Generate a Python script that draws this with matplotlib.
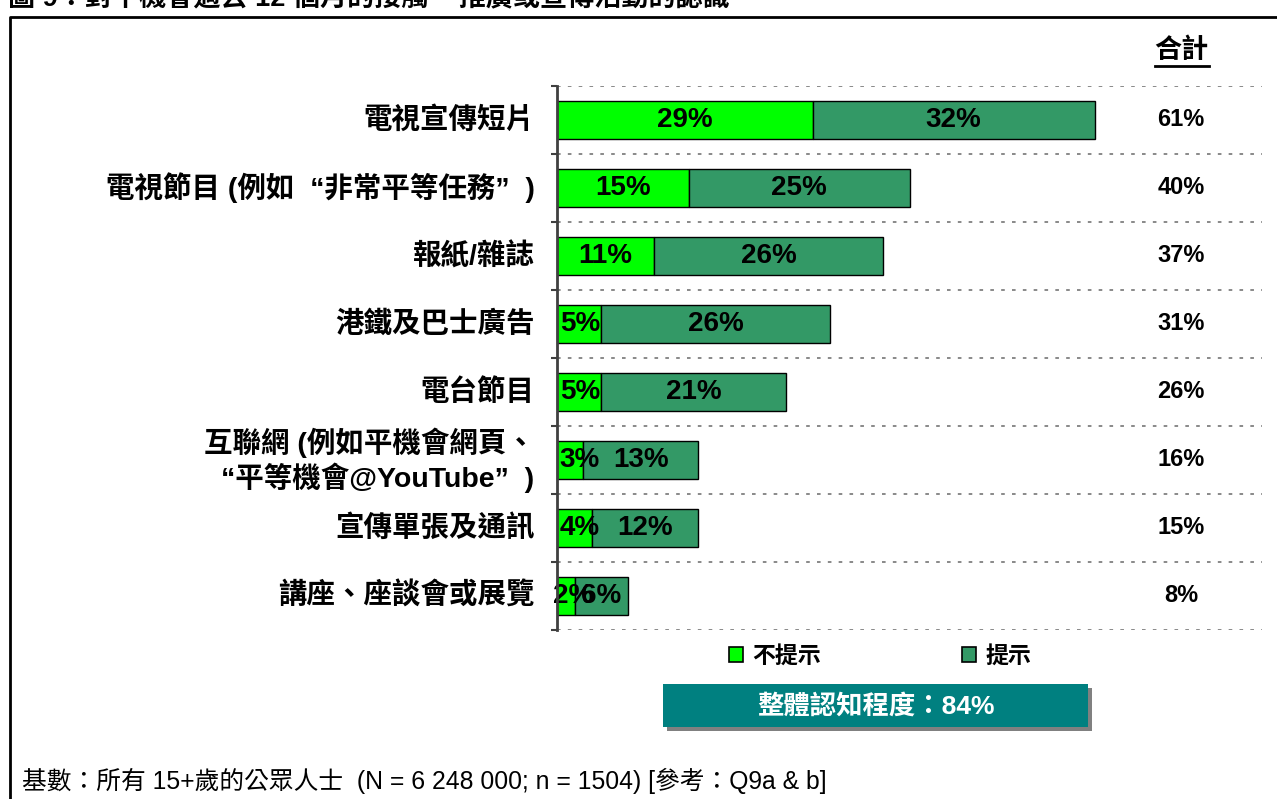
import matplotlib
matplotlib.use("Agg")
import matplotlib.pyplot as plt
from matplotlib.patches import Patch, Rectangle
from matplotlib.lines import Line2D

categories = ["電視宣傳短片", "電視節目 (例如  “非常平等任務”  )", "報紙/雜誌", "港鐵及巴士廣告",
              "電台節目", "互聯網 (例如平機會網頁、\n“平等機會@YouTube”  )", "宣傳單張及通訊",
              "講座、座談會或展覽"]
unprompted = [29, 15, 11, 5, 5, 3, 4, 2]
prompted = [32, 25, 26, 26, 21, 13, 12, 6]
totals = [61, 40, 37, 31, 26, 16, 15, 8]
series_names = ["不提示", "提示"]
overall_text = "整體認知程度：84%"
total_header = "合計"
footer = "基數：所有 15+歲的公眾人士  (N = 6 248 000; n = 1504) [參考：Q9a & b]"
title = "圖 9：對平機會過去 12 個月的接觸 – 推廣或宣傳活動的認識"

C_LIGHT = "#00FF00"
C_DARK = "#339966"
FAM = ["Liberation Sans", "Noto Sans CJK TC"]

W, H = 1277, 799
fig = plt.figure(figsize=(W / 100, H / 100), dpi=100)

def fx(px):
    return px / W

def fy(py):
    return 1 - py / H

ax = fig.add_axes([fx(557), fy(630), fx(1262) - fx(557), fy(86) - fy(630)])
n = len(categories)
ypos = list(range(n))
ax.set_xlim(0, 80)
ax.set_ylim(n - 0.5, -0.5)

ax.barh(ypos, unprompted, height=0.56, color=C_LIGHT, edgecolor="black", linewidth=1.0, zorder=3)
ax.barh(ypos, prompted, left=unprompted, height=0.56, color=C_DARK, edgecolor="black", linewidth=1.0, zorder=3)

for i in ypos:
    u, p = unprompted[i], prompted[i]
    ux = max(u / 2, min(2.6, 0.9 * u))
    ax.text(ux, i, f"{u}%", ha="center", va="center", fontsize=20, fontweight="bold",
            family=FAM, zorder=4)
    ax.text(u + p / 2, i, f"{p}%", ha="center", va="center", fontsize=20, fontweight="bold",
            family=FAM, zorder=4)
    ax.text(70.8, i, f"{totals[i]}%", ha="center", va="center", fontsize=17, fontweight="bold",
            family=FAM)
    ax.text(-0.032, i, categories[i], transform=ax.get_yaxis_transform(), ha="right", va="center",
            fontsize=20.5, fontweight="bold", family=FAM, linespacing=1.2)

# gridlines at category boundaries
bounds = [k - 0.5 for k in range(n + 1)]
for b in bounds:
    ax.axhline(b, color="#808080", linestyle=(0, (2, 4)), linewidth=1.3, zorder=1)

for s in ["top", "right", "bottom"]:
    ax.spines[s].set_visible(False)
ax.spines["left"].set_color("#404040")
ax.spines["left"].set_linewidth(2)
ax.spines["left"].set_zorder(5)
ax.set_xticks([])
ax.set_yticks(bounds)
ax.set_yticklabels([])
ax.tick_params(axis="y", length=4, width=1.5, color="#404040", direction="out")

# header
fig.text(fx(1181), fy(51), total_header, ha="center", va="center", fontsize=19.5, fontweight="bold",
         family=FAM)
fig.add_artist(Line2D([fx(1155), fx(1209)], [fy(66), fy(66)], color="black", linewidth=2))

# legend
handles = [Patch(facecolor=C_LIGHT, edgecolor="black", linewidth=1.2),
           Patch(facecolor=C_DARK, edgecolor="black", linewidth=1.2)]
fig.legend(handles, series_names, loc="center", bbox_to_anchor=(fx(880), fy(656)), ncol=2,
           frameon=False, prop={"family": FAM, "size": 16.5, "weight": "bold"},
           handlelength=0.6, handleheight=0.6, handletextpad=0.4, columnspacing=6.2)

# overall box
fig.add_artist(Rectangle((fx(667), fy(731)), fx(1092) - fx(667), fy(688) - fy(731),
                         transform=fig.transFigure, facecolor="#808080", edgecolor="none"))
fig.add_artist(Rectangle((fx(663), fy(727)), fx(1088) - fx(663), fy(684) - fy(727),
                         transform=fig.transFigure, facecolor="#008080", edgecolor="none"))
fig.text(fx(876), fy(706), overall_text, ha="center", va="center", fontsize=19, fontweight="bold",
         color="white", family=FAM)

# frame
fig.add_artist(Line2D([fx(10), fx(10), fx(1277)], [fy(799), fy(17), fy(17)], color="black",
                      linewidth=2))

# partially visible title (cut off at the top edge, as in the reference)
fig.text(fx(8), fy(6), title, ha="left", va="baseline", fontsize=19.5, fontweight="bold",
         family=FAM)

# footer
fig.text(fx(22), fy(781), footer, ha="left", va="center", fontsize=17.8, family=FAM)

fig.savefig("out.png", dpi=100)
